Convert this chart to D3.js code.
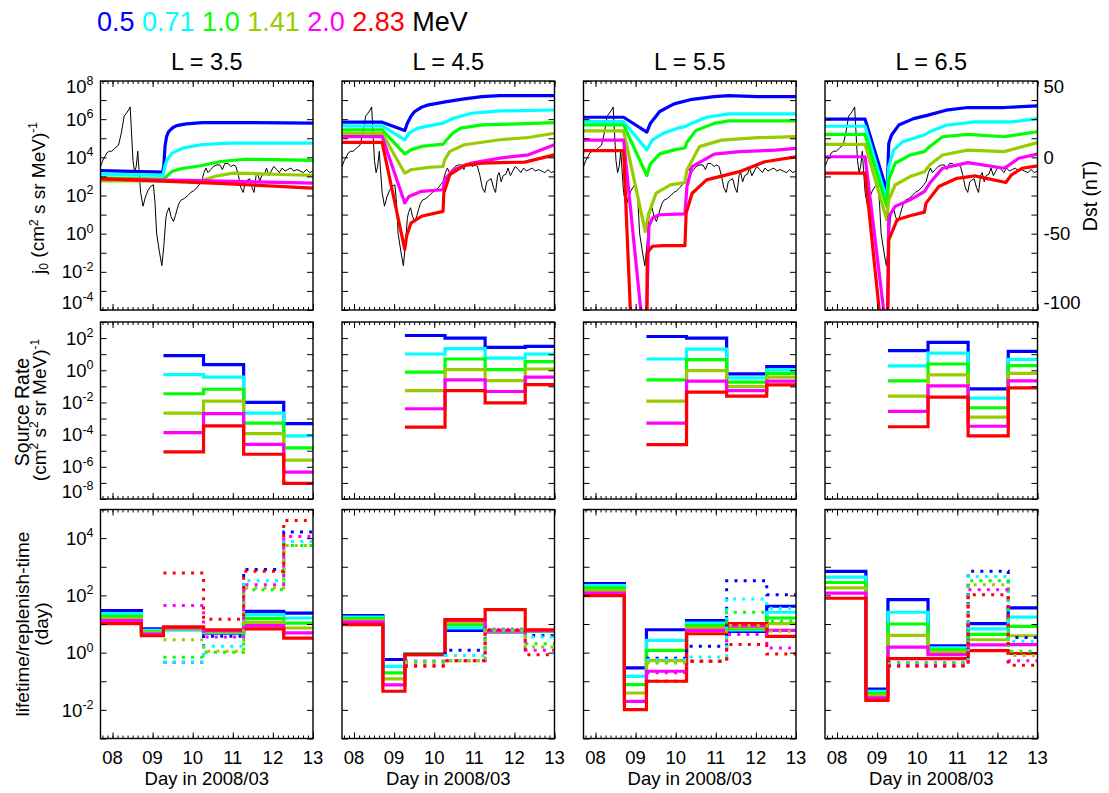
<!DOCTYPE html>
<html>
<head>
<meta charset="utf-8">
<script src="https://cdn.jsdelivr.net/npm/d3@7"></script>
<style>
  body { margin: 0; background: #fff; }
  text { font-family: "Liberation Sans", Arial, Helvetica, sans-serif; fill: #000; }
  .tick line { stroke: #000; stroke-width: 1; }
</style>
</head>
<body>
<svg id="chart" width="1109" height="793"></svg>
<script>
let energies = ['0.5', '0.71', '1.0', '1.41', '2.0', '2.83'];
let colors = ['#0000ff', '#00ffff', '#00ff00', '#99cc00', '#ff00ff', '#ff0000'];
let shells = ['L = 3.5', 'L = 4.5', 'L = 5.5', 'L = 6.5'];

let dayTicks = [8, 9, 10, 11, 12, 13];
let dayLabels = ['08', '09', '10', '11', '12', '13'];
let fluxExp = [8, 6, 4, 2, 0, -2, -4];
let srcExp = [2, 0, -2, -4, -6, -8];
let lifeExp = [4, 2, 0, -2];
let dstTicks = [50, 0, -50, -100];

// start of each model time bin (days of March 2008), last entry closes the run
let binEdges = [7.7, 8.72, 9.27, 10.27, 11.27, 12.27, 13.0];

// Dst index, [day, nT]
let dst = [
  [7.70, -6], [7.76, -2], [7.82, 1], [7.86, 3], [7.92, 4], [7.98, 4], [8.06, 6], [8.15, 8],
  [8.22, 16], [8.29, 27], [8.35, 29], [8.40, 31], [8.44, 33], [8.47, 18], [8.51, -2], [8.55, -10],
  [8.59, -6], [8.63, 4], [8.66, -8], [8.70, -23], [8.76, -32], [8.82, -26], [8.88, -22],
  [8.95, -19], [9.02, -18], [9.06, -30], [9.10, -50], [9.17, -62], [9.23, -71], [9.28, -58],
  [9.33, -40], [9.36, -36], [9.41, -33], [9.46, -39], [9.52, -42], [9.57, -38], [9.61, -34],
  [9.66, -30], [9.71, -28], [9.79, -27], [9.88, -25], [9.95, -23], [10.02, -22], [10.10, -20],
  [10.16, -18], [10.22, -16], [10.28, -10], [10.33, -7], [10.38, -10], [10.45, -8], [10.52, -6],
  [10.60, -5], [10.68, -5], [10.74, -8], [10.80, -4], [10.88, -4], [10.95, -6], [11.02, -5],
  [11.08, -6], [11.14, -12], [11.20, -20], [11.26, -23], [11.31, -16], [11.36, -15], [11.42, -14],
  [11.48, -20], [11.53, -23], [11.58, -12], [11.62, -10], [11.67, -16], [11.72, -12], [11.79, -11],
  [11.84, -7], [11.90, -12], [11.96, -9], [12.02, -6], [12.10, -8], [12.16, -10], [12.23, -7],
  [12.30, -9], [12.37, -8], [12.45, -7], [12.52, -9], [12.60, -8], [12.68, -9], [12.76, -10],
  [12.84, -8], [12.92, -10], [13.00, -9]
];

// j0 for each energy, [day, log10 j0], one array per L shell
let j0_L35 = [
  [[7.7, 3.30], [9.25, 3.22], [9.28, 3.60], [9.31, 4.60], [9.35, 5.10], [9.40, 5.35], [9.50, 5.55], [9.60, 5.66], [9.84, 5.75], [10.24, 5.82], [11.5, 5.82], [13, 5.79]],
  [[7.7, 3.12], [9.26, 3.05], [9.30, 3.50], [9.36, 3.87], [9.48, 4.22], [9.75, 4.48], [10.2, 4.66], [10.9, 4.74], [13, 4.74]],
  [[7.7, 2.92], [9.27, 2.86], [9.35, 3.00], [9.48, 3.26], [9.70, 3.40], [10.2, 3.56], [10.7, 3.78], [11.3, 3.90], [12.0, 3.88], [13, 3.84]],
  [[7.7, 2.77], [10.2, 2.77], [10.55, 3.00], [11.0, 3.17], [11.4, 3.16], [12.2, 3.10], [13, 3.05]],
  [[7.7, 2.86], [10.2, 2.78], [13, 2.65]],
  [[7.7, 2.88], [10.5, 2.65], [13, 2.39]]
];
let j0_L45 = [
  [[7.7, 5.84], [8.70, 5.84], [9.265, 5.40], [9.33, 5.79], [9.42, 6.15], [9.51, 6.40], [9.68, 6.62], [9.86, 6.75], [10.31, 6.92], [10.75, 7.06], [11.19, 7.18], [11.64, 7.23], [13, 7.23]],
  [[7.7, 5.65], [8.70, 5.65], [9.265, 4.92], [9.37, 5.27], [9.59, 5.53], [9.86, 5.65], [10.22, 5.79], [10.48, 6.05], [10.93, 6.31], [11.64, 6.43], [13, 6.48]],
  [[7.7, 5.44], [8.70, 5.44], [9.265, 4.18], [9.42, 4.39], [9.68, 4.57], [10.22, 4.69], [10.31, 4.92], [10.48, 5.30], [10.66, 5.53], [11.19, 5.70], [12.08, 5.75], [13, 5.82]],
  [[7.7, 5.26], [8.70, 5.26], [9.265, 3.17], [9.42, 3.35], [9.86, 3.47], [10.22, 3.52], [10.26, 3.87], [10.39, 4.31], [10.75, 4.66], [11.64, 4.92], [12.35, 5.04], [13, 5.26]],
  [[7.7, 5.09], [8.70, 5.09], [9.265, 1.61], [9.37, 1.95], [9.68, 2.22], [10.22, 2.30], [10.26, 2.83], [10.48, 3.35], [10.93, 3.70], [11.64, 3.96], [12.35, 4.13], [13, 4.66]],
  [[7.7, 4.78], [8.70, 4.78], [9.265, -0.83], [9.31, -0.14], [9.42, 0.56], [9.68, 0.91], [10.22, 1.17], [10.24, 2.13], [10.39, 3.09], [10.75, 3.58], [11.19, 3.70], [12.26, 3.75], [13, 4.13]]
];
let j0_L55 = [
  [[7.7, 6.10], [8.70, 6.10], [9.28, 5.32], [9.37, 5.79], [9.60, 6.40], [9.96, 6.80], [10.41, 7.04], [10.96, 7.18], [11.32, 7.23], [12.04, 7.18], [13, 7.18]],
  [[7.7, 5.87], [8.70, 5.87], [9.28, 4.39], [9.42, 4.92], [9.69, 5.26], [10.05, 5.53], [10.23, 5.61], [10.41, 5.79], [10.77, 6.10], [11.32, 6.28], [13, 6.28]],
  [[7.7, 5.70], [8.70, 5.70], [9.28, 3.05], [9.37, 3.66], [9.60, 4.18], [9.96, 4.39], [10.23, 4.49], [10.28, 4.79], [10.50, 5.40], [10.96, 5.78], [11.32, 5.91], [13, 5.91]],
  [[7.7, 5.39], [8.70, 5.39], [9.24, 0.12], [9.33, 1.08], [9.51, 2.12], [9.87, 2.56], [10.23, 2.68], [10.28, 3.34], [10.59, 4.56], [11.14, 4.90], [12.04, 5.03], [13, 5.08]],
  [[7.7, 4.90], [8.70, 4.90], [9.20, -5.5], [9.26, -5.5], [9.33, 0.38], [9.42, 0.82], [9.60, 0.99], [10.23, 1.04], [10.28, 2.47], [10.41, 3.51], [10.96, 4.17], [11.59, 4.30], [12.49, 4.38], [13, 4.47]],
  [[7.7, 4.35], [8.70, 4.35], [9.05, -13], [9.26, -13], [9.29, -1.00], [9.42, -0.66], [9.69, -0.63], [10.23, -0.63], [10.26, 1.08], [10.41, 2.12], [10.77, 2.82], [11.59, 3.25], [12.22, 3.77], [13, 4.03]]
];
let j0_L65 = [
  [[7.7, 6.00], [8.70, 6.00], [9.25, 2.20], [9.29, 4.73], [9.36, 5.17], [9.54, 5.69], [9.91, 6.03], [10.27, 6.21], [10.72, 6.47], [11.26, 6.61], [12.17, 6.61], [13, 6.70]],
  [[7.7, 5.63], [8.70, 5.63], [9.24, 1.77], [9.29, 3.51], [9.41, 4.38], [9.64, 4.82], [10.18, 5.17], [10.31, 5.34], [10.72, 5.68], [11.44, 5.86], [12.35, 5.86], [13, 6.03]],
  [[7.7, 5.20], [8.70, 5.20], [9.24, 1.43], [9.29, 2.82], [9.45, 3.69], [9.82, 4.12], [10.18, 4.30], [10.31, 4.56], [10.63, 5.08], [11.26, 5.20], [12.17, 5.08], [13, 5.34]],
  [[7.7, 4.68], [8.70, 4.68], [9.24, 0.73], [9.29, 1.77], [9.45, 2.55], [9.82, 2.99], [10.18, 3.25], [10.31, 3.60], [10.63, 4.12], [11.26, 4.38], [12.17, 4.30], [13, 4.77]],
  [[7.7, 4.03], [8.70, 4.03], [9.22, -5], [9.255, -5], [9.29, 0.90], [9.45, 1.43], [9.82, 1.77], [10.18, 2.21], [10.31, 2.64], [10.63, 3.43], [11.26, 3.72], [12.17, 3.43], [12.26, 3.55], [12.53, 3.95], [13, 4.17]],
  [[7.7, 3.17], [8.70, 3.17], [9.15, -6], [9.255, -6], [9.29, -0.32], [9.50, 0.73], [9.82, 0.94], [10.18, 1.13], [10.22, 1.60], [10.54, 2.47], [10.99, 2.90], [11.44, 3.03], [12.21, 2.68], [12.35, 3.08], [12.62, 3.43], [13, 3.55]]
];
let j0 = [j0_L35, j0_L45, j0_L55, j0_L65];

// source rate per time bin, log10, one row per energy
let source = [
  [[null, null, 0.91, 0.35, -2.00, -3.32], [null, null, -0.27, -0.43, -2.66, -4.08], [null, null, -1.46, -1.18, -3.28, -4.82],
   [null, null, -2.66, -1.92, -3.94, -5.59], [null, null, -3.88, -2.70, -4.60, -6.33], [null, null, -5.07, -3.46, -5.22, -7.03]],
  [[null, null, 2.16, 2.00, 1.42, 1.48], [null, null, 1.01, 1.34, 0.76, 1.01], [null, null, -0.12, 0.70, 0.04, 0.54],
   [null, null, -1.26, 0.04, -0.64, 0.08], [null, null, -2.39, -0.60, -1.32, -0.43], [null, null, -3.53, -1.26, -2.02, -0.89]],
  [[null, null, 2.10, 2.00, -0.23, 0.23], [null, null, 0.70, 1.32, -0.47, 0.02], [null, null, -0.60, 0.66, -0.74, -0.19],
   [null, null, -1.92, -0.02, -1.01, -0.43], [null, null, -3.28, -0.68, -1.26, -0.68], [null, null, -4.62, -1.36, -1.61, -0.91]],
  [[null, null, 1.22, 1.73, -1.15, 1.18], [null, null, 0.27, 1.07, -1.73, 0.68], [null, null, -0.66, 0.39, -2.33, 0.29],
   [null, null, -1.61, -0.29, -2.91, -0.19], [null, null, -2.56, -0.97, -3.48, -0.66], [null, null, -3.51, -1.67, -4.08, -1.09]]
];

// electron lifetime per time bin, log10 day
let lifetime = [
  [[1.47, 0.83, 0.80, 0.68, 1.44, 1.38], [1.36, 0.78, 0.81, 0.70, 1.33, 1.21], [1.27, 0.73, 0.83, 0.72, 1.19, 1.03],
   [1.19, 0.70, 0.85, 0.74, 1.06, 0.86], [1.12, 0.65, 0.87, 0.77, 0.94, 0.69], [1.01, 0.59, 0.90, 0.80, 0.83, 0.51]],
  [[1.29, -0.24, -0.04, 0.78, 0.72, 0.74], [1.24, -0.48, -0.05, 0.86, 0.73, 0.75], [1.19, -0.71, -0.06, 0.98, 0.74, 0.76],
   [1.13, -0.92, -0.06, 1.06, 0.75, 0.77], [1.07, -1.13, -0.07, 1.13, 0.76, 0.78], [0.98, -1.35, -0.07, 1.15, 1.50, 0.80]],
  [[2.41, -0.53, 0.80, 1.12, 0.74, 1.62], [2.34, -0.83, 0.43, 1.03, 0.79, 1.41], [2.26, -1.12, 0.08, 0.94, 0.84, 1.21],
   [2.17, -1.41, -0.28, 0.86, 0.88, 1.01], [2.08, -1.70, -0.65, 0.78, 0.93, 0.78], [1.99, -1.99, -1.00, 0.66, 1.01, 0.57]],
  [[2.84, -1.27, 1.85, 0.24, 1.01, 1.56], [2.64, -1.35, 1.41, 0.17, 0.83, 1.24], [2.45, -1.43, 1.00, 0.10, 0.64, 0.92],
   [2.26, -1.50, 0.60, 0.02, 0.45, 0.59], [2.08, -1.58, 0.19, -0.07, 0.27, 0.28], [1.90, -1.67, -0.21, -0.21, 0.07, -0.03]]
];

// replenish time per time bin, log10 day
let replenish = [
  [[null, null, -0.34, 0.57, 2.90, 4.21], [null, null, -0.34, 0.22, 2.51, 3.88], [null, null, -0.16, 0.01, 2.20, 3.74],
   [null, null, 0.45, 0.05, 2.26, 3.74], [null, null, 1.65, 0.55, 2.37, 4.06], [null, null, 2.78, 1.17, 2.84, 4.62]],
  [[null, null, -0.30, 0.08, 0.82, 0.60], [null, null, -0.32, -0.10, 0.80, 0.55], [null, null, -0.33, -0.28, 0.78, 0.31],
   [null, null, -0.35, -0.28, 0.76, 0.20], [null, null, -0.45, -0.28, 0.78, 0.08], [null, null, -0.48, -0.28, 0.80, -0.07]],
  [[null, null, -0.20, 0.22, 2.51, 2.02], [null, null, -0.25, -0.15, 1.87, 1.55], [null, null, -0.36, -0.30, 1.41, 1.10],
   [null, null, -0.34, -0.30, 0.95, 0.75], [null, null, -0.70, -0.30, 0.63, 0.16], [null, null, -1.00, -0.30, 0.28, -0.05]],
  [[null, null, -0.36, -0.36, 2.84, 0.53], [null, null, -0.38, -0.38, 2.66, 0.40], [null, null, -0.40, -0.40, 2.51, 0.05],
   [null, null, -0.42, -0.42, 2.37, -0.10], [null, null, -0.45, -0.45, 2.20, -0.28], [null, null, -0.48, -0.48, 2.02, -0.44]]
];

// panel geometry
let panelW = 212.5;
let colLeft = i => 100.5 + i * 241.5;
let rows = [{ top: 81, h: 229 }, { top: 322, h: 177 }, { top: 509.5, h: 229 }];

let x = d3.scaleLinear().domain([7.7, 13]).range([0, panelW]);
let yFlux = d3.scaleLog().domain([1e-4, 1e8]).range([rows[0].h, 0]);
let yDst = d3.scaleLinear().domain([-100, 50]).range([rows[0].h, 0]);
let ySrc = d3.scaleLog().domain([1e-8, 1e3]).range([rows[1].h, 0]);
let yLife = d3.scaleLog().domain([1e-3, 1e5]).range([rows[2].h, 0]);
let minorDays = d3.range(7.75, 13.001, 0.125);

let svg = d3.select('#chart');

/* Turns a row of per-bin values into step points, closing at the run end */
function binPoints(vals) {
  let pts = vals.map((v, i) => [binEdges[i], v]);
  pts.push([binEdges[binEdges.length - 1], vals[vals.length - 1]]);
  return pts;
}

/* Frame plus inward ticks on all four sides */
function drawFrame(g, y, h, yTickVals) {
  let ax = [
    [d3.axisBottom(x).tickValues(minorDays).tickSize(-3), `translate(0,${h})`],
    [d3.axisBottom(x).tickValues(dayTicks).tickSize(-6), `translate(0,${h})`],
    [d3.axisTop(x).tickValues(minorDays).tickSize(-3), null],
    [d3.axisTop(x).tickValues(dayTicks).tickSize(-6), null],
    [d3.axisLeft(y).tickValues(yTickVals).tickSize(-6), null],
    [d3.axisRight(y).tickValues(yTickVals).tickSize(-6), `translate(${panelW},0)`]
  ];
  ax.forEach(([a, tr]) => {
    let ga = g.append('g').call(a.tickFormat(''));
    if (tr) ga.attr('transform', tr);
    ga.select('.domain').remove();
    ga.selectAll('text').remove();
  });
  g.append('rect')
    .attr('width', panelW).attr('height', h)
    .attr('fill', 'none').attr('stroke', '#000').attr('stroke-width', 1.4);
}

/* "10" with a raised exponent, nudged inside the frame at the ends */
function powerLabels(g, y, h, exps) {
  exps.forEach(e => {
    let yy = Math.min(Math.max(y(Math.pow(10, e)), 5), h - 8);
    let t = g.append('text')
      .attr('x', -7).attr('y', yy).attr('dy', '0.36em')
      .attr('text-anchor', 'end').attr('font-size', 18.5);
    t.append('tspan').text('10');
    t.append('tspan').attr('dy', '-0.62em').attr('font-size', 12.5).text(e);
  });
}

let fluxLine = d3.line().x(d => x(d[0])).y(d => yFlux(Math.pow(10, d[1])));
let dstLine = d3.line().x(d => x(d[0])).y(d => yDst(d[1]));
let srcLine = d3.line().curve(d3.curveStepAfter)
  .defined(d => d[1] !== null).x(d => x(d[0])).y(d => ySrc(Math.pow(10, d[1])));
let lifeLine = d3.line().curve(d3.curveStepAfter)
  .defined(d => d[1] !== null).x(d => x(d[0])).y(d => yLife(Math.pow(10, d[1])));

shells.forEach((name, c) => {
  // clip rectangles for this column
  rows.forEach((r, ri) => {
    svg.append('clipPath').attr('id', `clip${ri}_${c}`)
      .append('rect').attr('width', panelW).attr('height', r.h);
  });

  // top row: j0 and Dst
  let g1 = svg.append('g').attr('transform', `translate(${colLeft(c)},${rows[0].top})`);
  let p1 = g1.append('g').attr('clip-path', `url(#clip0_${c})`);
  p1.append('path').attr('d', dstLine(dst))
    .attr('fill', 'none').attr('stroke', '#000').attr('stroke-width', 1);
  j0[c].forEach((s, k) => {
    p1.append('path').attr('d', fluxLine(s))
      .attr('fill', 'none').attr('stroke', colors[k]).attr('stroke-width', 3.2)
      .attr('stroke-linejoin', 'round');
  });
  drawFrame(g1, yFlux, rows[0].h, d3.range(-4, 9).map(e => Math.pow(10, e)));
  g1.append('text').attr('x', panelW / 2).attr('y', -11)
    .attr('text-anchor', 'middle').attr('font-size', 23.5).text(name);

  // middle row: source rate
  let g2 = svg.append('g').attr('transform', `translate(${colLeft(c)},${rows[1].top})`);
  let p2 = g2.append('g').attr('clip-path', `url(#clip1_${c})`);
  source[c].forEach((s, k) => {
    p2.append('path').attr('d', srcLine(binPoints(s)))
      .attr('fill', 'none').attr('stroke', colors[k]).attr('stroke-width', 3.2);
  });
  drawFrame(g2, ySrc, rows[1].h, d3.range(-8, 4).map(e => Math.pow(10, e)));

  // bottom row: lifetime (solid) and replenish time (dotted)
  let g3 = svg.append('g').attr('transform', `translate(${colLeft(c)},${rows[2].top})`);
  let p3 = g3.append('g').attr('clip-path', `url(#clip2_${c})`);
  lifetime[c].forEach((s, k) => {
    p3.append('path').attr('d', lifeLine(binPoints(s)))
      .attr('fill', 'none').attr('stroke', colors[k]).attr('stroke-width', 3.2);
  });
  replenish[c].forEach((s, k) => {
    p3.append('path').attr('d', lifeLine(binPoints(s)))
      .attr('fill', 'none').attr('stroke', colors[k]).attr('stroke-width', 3)
      .attr('stroke-dasharray', '3 6.2');
  });
  drawFrame(g3, yLife, rows[2].h, d3.range(-3, 6).map(e => Math.pow(10, e)));

  dayTicks.forEach((d, i) => {
    g3.append('text').attr('x', x(d)).attr('y', rows[2].h + 25)
      .attr('text-anchor', 'middle').attr('font-size', 18.5).text(dayLabels[i]);
  });
  g3.append('text').attr('x', panelW / 2).attr('y', rows[2].h + 46)
    .attr('text-anchor', 'middle').attr('font-size', 18.5).text('Day in 2008/03');

  if (c === 0) {
    powerLabels(g1, yFlux, rows[0].h, fluxExp);
    powerLabels(g2, ySrc, rows[1].h, srcExp);
    powerLabels(g3, yLife, rows[2].h, lifeExp);
  }
  if (c === 3) {
    dstTicks.forEach(v => {
      let yy = Math.min(Math.max(yDst(v), 5), rows[0].h - 8);
      g1.append('text').attr('x', panelW + 6).attr('y', yy).attr('dy', '0.36em')
        .attr('font-size', 18.5).text(v);
    });
  }
});

// axis titles
let t1 = svg.append('text').attr('transform', 'translate(38,198) rotate(-90)')
  .attr('text-anchor', 'middle').attr('dy', '0.35em').attr('font-size', 19);
t1.append('tspan').text('j');
t1.append('tspan').attr('font-size', 12).attr('dy', '0.3em').text('0');
t1.append('tspan').attr('dy', '-0.2em').text(' (cm');
t1.append('tspan').attr('font-size', 12).attr('dy', '-0.55em').text('2');
t1.append('tspan').attr('dy', '0.35em').text(' s sr MeV)');
t1.append('tspan').attr('font-size', 12).attr('dy', '-0.6em').text('-1');

svg.append('text').attr('transform', 'translate(22,412) rotate(-90)')
  .attr('text-anchor', 'middle').attr('dy', '0.35em').attr('font-size', 19.5).text('Source Rate');
let t2 = svg.append('text').attr('transform', 'translate(39,410) rotate(-90)')
  .attr('text-anchor', 'middle').attr('dy', '0.35em').attr('font-size', 19);
t2.append('tspan').text('(cm');
t2.append('tspan').attr('font-size', 12).attr('dy', '-0.6em').text('2');
t2.append('tspan').attr('dy', '0.38em').text(' s');
t2.append('tspan').attr('font-size', 12).attr('dy', '-0.6em').text('2');
t2.append('tspan').attr('dy', '0.38em').text(' sr MeV)');
t2.append('tspan').attr('font-size', 12).attr('dy', '-0.6em').text('-1');

svg.append('text').attr('transform', 'translate(22,624) rotate(-90)')
  .attr('text-anchor', 'middle').attr('dy', '0.35em').attr('font-size', 19).text('lifetime/replenish-time');
svg.append('text').attr('transform', 'translate(41,624) rotate(-90)')
  .attr('text-anchor', 'middle').attr('dy', '0.35em').attr('font-size', 19).text('(day)');

svg.append('text').attr('transform', 'translate(1090,196) rotate(-90)')
  .attr('text-anchor', 'middle').attr('dy', '0.35em').attr('font-size', 19.5).text('Dst (nT)');

// energy legend
let leg = svg.append('text').attr('x', 97).attr('y', 31).attr('font-size', 27)
  .style('white-space', 'pre');
energies.forEach((e, k) => {
  leg.append('tspan').attr('fill', colors[k]).text(e + ' ');
});
leg.append('tspan').attr('fill', '#000').text('MeV');
</script>
</body>
</html>
